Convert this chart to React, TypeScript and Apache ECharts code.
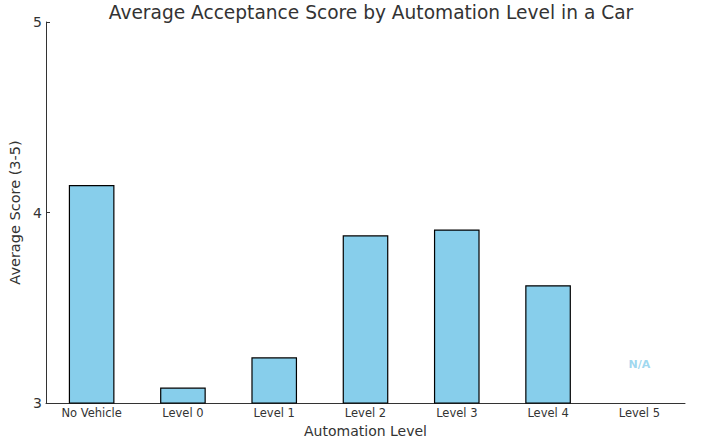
import React, { useEffect, useRef } from "react";
import * as echarts from "echarts";

const categories = ["No Vehicle", "Level 0", "Level 1", "Level 2", "Level 3", "Level 4", "Level 5"];
const scores: (number | null)[] = [4.144, 3.081, 3.24, 3.88, 3.911, 3.618, null];
const naLabelPos: (number | null)[] = [null, null, null, null, null, null, 3.2];
const yTicks = [3, 4, 5];

export default function App() {
  const ref = useRef<HTMLDivElement>(null);
  useEffect(() => {
    const chart = echarts.init(ref.current!, null, { renderer: "svg" });
    const font = "DejaVu Sans";
    chart.setOption({
      animation: false,
      backgroundColor: "#fff",
      textStyle: { fontFamily: font },
      title: {
        text: "Average Acceptance Score by Automation Level in a Car",
        left: 366,
        textAlign: "center",
        top: -2,
        textStyle: { fontFamily: font, fontSize: 18.6, fontWeight: "normal", color: "#333" },
      },
      grid: { left: 46, right: 23, top: 22, bottom: 39, containLabel: false, outerBoundsMode: "none" },
      xAxis: {
        type: "category",
        data: categories,
        boundaryGap: true,
        name: "Automation Level",
        nameLocation: "middle",
        nameGap: 18,
        nameTextStyle: { fontFamily: font, fontSize: 14, color: "#333" },
        axisLine: { lineStyle: { color: "#333", width: 1 } },
        axisTick: { alignWithLabel: true, inside: true, length: 4, lineStyle: { color: "#333" } },
        axisLabel: { fontFamily: font, fontSize: 11.5, color: "#333", margin: 4 },
      },
      yAxis: {
        type: "value",
        min: yTicks[0],
        max: yTicks[yTicks.length - 1],
        interval: 1,
        name: "Average Score (3-5)",
        nameLocation: "middle",
        nameGap: 10,
        nameTextStyle: { fontFamily: font, fontSize: 14.5, color: "#333" },
        axisLine: { show: true, lineStyle: { color: "#333", width: 1 } },
        axisTick: { show: true, inside: true, length: 4, lineStyle: { color: "#333" } },
        axisLabel: { fontFamily: font, fontSize: 14, color: "#333", margin: 4 },
        splitLine: { show: false },
      },
      series: [
        {
          type: "bar",
          data: scores,
          barWidth: "50%",
          itemStyle: { color: "#87CEEB", borderColor: "#000", borderWidth: 1.2 },
        },
        {
          type: "scatter",
          data: naLabelPos,
          symbolSize: 0,
          label: {
            show: true,
            position: "inside",
            formatter: "N/A",
            color: "#87CEEB",
            fontWeight: "bold",
            fontSize: 11,
            fontFamily: font,
          },
        },
      ],
    });
    return () => chart.dispose();
  }, []);
  return <div ref={ref} style={{ position: "fixed", left: 0, top: 0, width: 708, height: 442 }} />;
}
